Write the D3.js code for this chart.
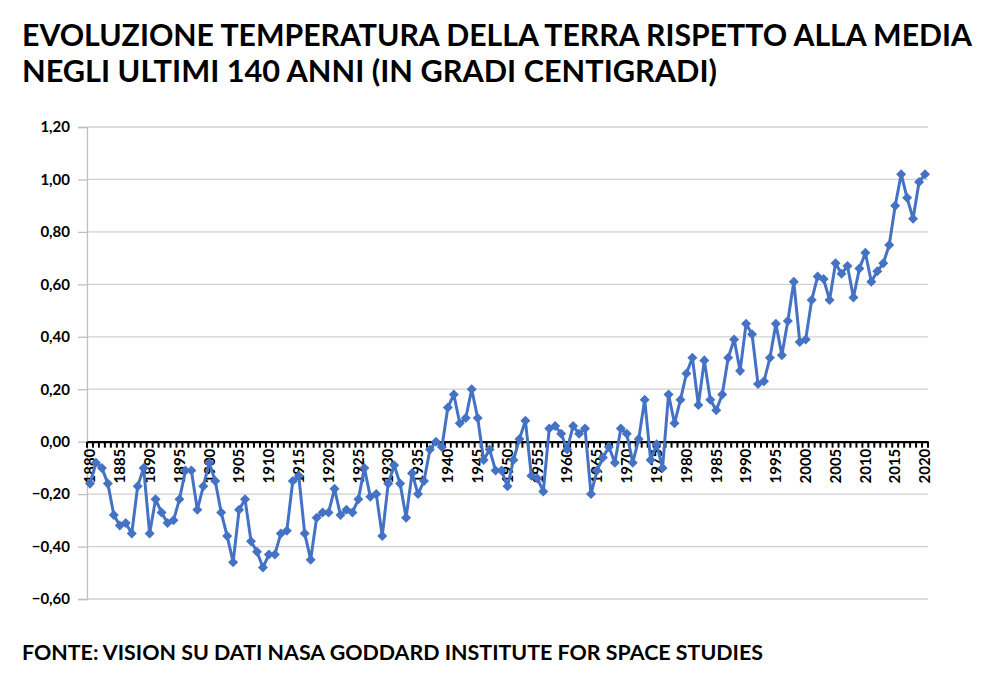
<!DOCTYPE html>
<html>
<head>
<meta charset="utf-8">
<script src="https://cdn.jsdelivr.net/npm/d3@7"></script>
<style>
  body { margin: 0; background: #fff; }
  text { font-family: Lato, "Open Sans", sans-serif; font-weight: bold; fill: #000; }
</style>
</head>
<body>
<svg id="chart" width="1004" height="677"></svg>
<script>
// anni 1880-2020
var years = d3.range(1880, 2021);

// anomalia annuale (gradi C) rispetto alla media
var anomalies = [
  -0.16, -0.08, -0.10, -0.16, -0.28, -0.32, -0.31, -0.35, -0.17, -0.10,
  -0.35, -0.22, -0.27, -0.31, -0.30, -0.22, -0.11, -0.11, -0.26, -0.17,
  -0.08, -0.15, -0.27, -0.36, -0.46, -0.26, -0.22, -0.38, -0.42, -0.48,
  -0.43, -0.43, -0.35, -0.34, -0.15, -0.13, -0.35, -0.45, -0.29, -0.27,
  -0.27, -0.18, -0.28, -0.26, -0.27, -0.22, -0.10, -0.21, -0.20, -0.36,
  -0.16, -0.09, -0.16, -0.29, -0.12, -0.20, -0.15, -0.03, 0.00, -0.02,
  0.13, 0.18, 0.07, 0.09, 0.20, 0.09, -0.07, -0.03, -0.11, -0.11,
  -0.17, -0.07, 0.01, 0.08, -0.13, -0.14, -0.19, 0.05, 0.06, 0.03,
  -0.03, 0.06, 0.03, 0.05, -0.20, -0.11, -0.06, -0.02, -0.08, 0.05,
  0.03, -0.08, 0.01, 0.16, -0.07, -0.01, -0.10, 0.18, 0.07, 0.16,
  0.26, 0.32, 0.14, 0.31, 0.16, 0.12, 0.18, 0.32, 0.39, 0.27,
  0.45, 0.41, 0.22, 0.23, 0.32, 0.45, 0.33, 0.46, 0.61, 0.38,
  0.39, 0.54, 0.63, 0.62, 0.54, 0.68, 0.64, 0.67, 0.55, 0.66,
  0.72, 0.61, 0.65, 0.68, 0.75, 0.90, 1.02, 0.93, 0.85, 0.99,
  1.02
];

var yTicks = [-0.6, -0.4, -0.2, 0, 0.2, 0.4, 0.6, 0.8, 1.0, 1.2];
var xLabelYears = years.filter(function(y) { return y % 5 === 0; });

var titleLines = [
  "EVOLUZIONE TEMPERATURA DELLA TERRA RISPETTO ALLA MEDIA",
  "NEGLI ULTIMI 140 ANNI (IN GRADI CENTIGRADI)"
];
var sourceText = "FONTE: VISION SU DATI NASA GODDARD INSTITUTE FOR SPACE STUDIES";

var data = years.map(function(y, i) { return {year: y, value: anomalies[i]}; });

var svg = d3.select("#chart"),
    margin = {top: 127, right: 76, bottom: 78, left: 87},
    width = +svg.attr("width") - margin.left - margin.right,
    height = +svg.attr("height") - margin.top - margin.bottom;

var it = d3.formatLocale({decimal: ",", thousands: ".", grouping: [3], currency: ["€", ""]});
var fmt = it.format(".2f");

var x = d3.scaleBand().domain(years).range([0, width]).padding(0),
    y = d3.scaleLinear().domain([-0.6, 1.2]).range([height, 0]);

var cx = function(d) { return x(d.year) + x.bandwidth() / 2; };

// titolo
svg.selectAll(".title")
  .data(titleLines)
  .enter().append("text")
    .attr("class", "title")
    .attr("x", 22)
    .attr("y", function(d, i) { return 46 + i * 36; })
    .attr("font-size", 30)
    .attr("font-weight", 900)
    .attr("textLength", function(d, i) { return i === 0 ? 950 : 695; })
    .attr("lengthAdjust", "spacingAndGlyphs")
    .text(function(d) { return d; });

svg.append("text")
  .attr("x", 22)
  .attr("y", 660)
  .attr("font-size", 20)
  .attr("font-weight", 900)
  .attr("textLength", 741)
  .attr("lengthAdjust", "spacingAndGlyphs")
  .text(sourceText);

var g = svg.append("g")
    .attr("transform", "translate(" + margin.left + "," + margin.top + ")");

// griglia
g.append("g")
  .selectAll("line")
  .data(yTicks)
  .enter().append("line")
    .attr("x1", 0)
    .attr("x2", width)
    .attr("y1", function(d) { return y(d); })
    .attr("y2", function(d) { return y(d); })
    .attr("stroke", "#d0d0d0")
    .attr("stroke-width", 1.3);

// asse y
var yAxis = g.append("g")
  .attr("class", "axis axis--y")
  .call(d3.axisLeft(y).tickValues(yTicks).tickFormat(fmt).tickSize(9).tickPadding(8));
yAxis.select(".domain").attr("stroke", "#bfbfbf").attr("stroke-width", 1.3);
yAxis.selectAll(".tick line").attr("stroke", "#bfbfbf").attr("stroke-width", 1.3);
yAxis.selectAll("text")
  .attr("font-size", 15)
  .attr("font-family", "Lato, sans-serif")
  .attr("font-weight", 900)
  .attr("fill", "#000");

// asse x sullo zero
var xAxis = g.append("g")
  .attr("class", "axis axis--x")
  .attr("transform", "translate(0," + y(0) + ")")
  .call(d3.axisBottom(x).tickValues(xLabelYears).tickSize(0).tickPadding(6));
xAxis.select(".domain").attr("stroke", "#000").attr("stroke-width", 2.2);
xAxis.selectAll("text")
  .attr("font-size", 15)
  .attr("font-family", "Lato, sans-serif")
  .attr("font-weight", 900)
  .attr("fill", "#000")
  .attr("text-anchor", "end")
  .attr("transform", "rotate(-90)")
  .attr("x", -7)
  .attr("y", 0)
  .attr("dy", "0.35em");

// tacche tra le categorie
var bounds = years.map(function(d) { return x(d); }).concat([width]);
xAxis.append("g")
  .selectAll("line")
  .data(bounds)
  .enter().append("line")
    .attr("x1", function(d) { return d; })
    .attr("x2", function(d) { return d; })
    .attr("y1", 0)
    .attr("y2", 6)
    .attr("stroke", "#000")
    .attr("stroke-width", 2);

// serie
var line = d3.line()
  .x(cx)
  .y(function(d) { return y(d.value); });

g.append("path")
  .datum(data)
  .attr("fill", "none")
  .attr("stroke", "#4472C4")
  .attr("stroke-width", 3)
  .attr("stroke-linejoin", "round")
  .attr("d", line);

var diamond = d3.symbol().type(d3.symbolDiamond2).size(64);
g.selectAll(".dot")
  .data(data)
  .enter().append("path")
    .attr("class", "dot")
    .attr("transform", function(d) { return "translate(" + cx(d) + "," + y(d.value) + ")"; })
    .attr("d", diamond)
    .attr("fill", "#4472C4");
</script>
</body>
</html>
